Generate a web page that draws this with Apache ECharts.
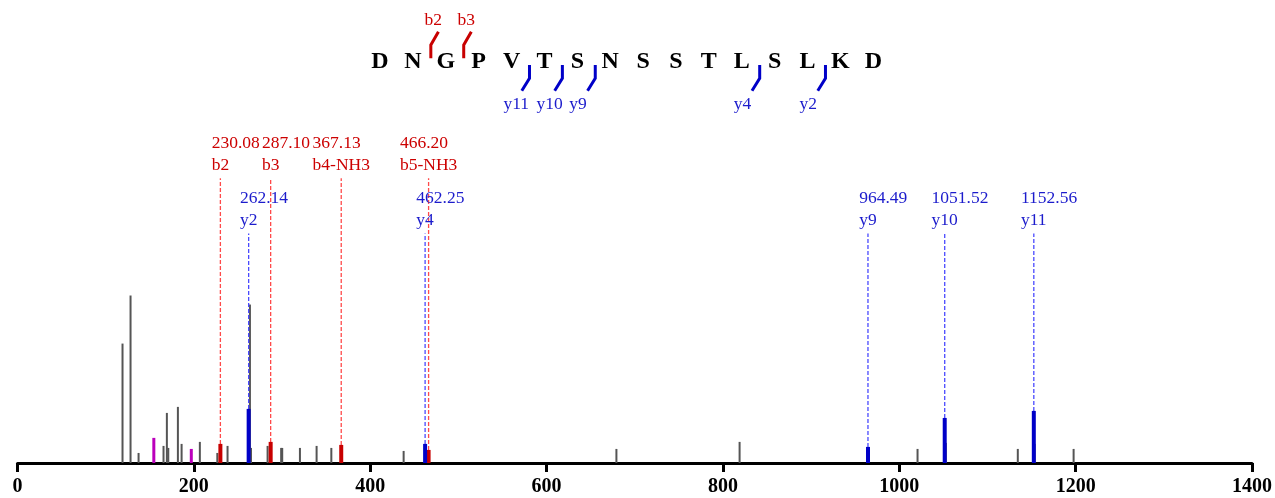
<!DOCTYPE html>
<html>
<head>
<meta charset="utf-8">
<script src="https://cdn.jsdelivr.net/npm/echarts@6/dist/echarts.min.js"></script>
<style>
html,body{margin:0;padding:0;background:#fff;}
#chart{width:1275px;height:498px;}
</style>
</head>
<body>
<div id="chart"></div>
<script>
// ---------- data ----------
const xTicks = [0, 200, 400, 600, 800, 1000, 1200, 1400];
const grayMz  = [119.1, 128.2, 137.3, 165.6, 169.4, 171.0, 181.9, 186.1, 206.8, 226.6, 238.2, 263.6, 264.8, 283.6, 299.0, 300.2, 320.3, 339.2, 355.9, 437.9, 679.2, 818.9, 1020.7, 1052.8, 1134.4, 1153.5, 1197.7];
const grayInt = [71.3, 100, 6.0, 10.2, 29.9, 9.0, 33.5, 11.4, 12.6, 6.0, 10.2, 94.6, 9.0, 10.2, 9.0, 9.0, 9.0, 10.2, 9.0, 7.2, 8.4, 12.6, 8.4, 12.0, 8.4, 11.4, 8.4];
const magentaMz  = [154.6, 197.1];
const magentaInt = [15.0, 8.4];
const bIonMz   = [230.08, 287.10, 367.13, 466.20];
const bIonInt  = [11.4, 12.6, 10.8, 7.8];
const bIonName = ['b2', 'b3', 'b4-NH3', 'b5-NH3'];
const yIonMz   = [262.14, 462.25, 964.49, 1051.52, 1152.56];
const yIonInt  = [32.3, 11.4, 9.6, 26.9, 31.1];
const yIonName = ['y2', 'y4', 'y9', 'y10', 'y11'];
const bLabelLevel = 170;
const yLabelLevel = 137;
const sequence = ['D','N','G','P','V','T','S','N','S','S','T','L','S','L','K','D'];
const bFragments = [2, 3];
const yFragments = [11, 10, 9, 4, 2];

// ---------- helpers ----------
const SERIF = '"Liberation Serif", "Times New Roman", serif';
const LABEL_FONT = '17.5px ' + SERIF;
const measureCtx = document.createElement('canvas').getContext('2d');
function textWidth(t, font) { measureCtx.font = font; return measureCtx.measureText(t).width; }

function peakRender(width, color) {
  return function (params, api) {
    const x = api.value(0), y = api.value(1);
    const p0 = api.coord([x, 0]), p1 = api.coord([x, y]);
    return { type: 'rect', shape: { x: p0[0] - width / 2, y: p1[1], width: width, height: p0[1] - p1[1] }, style: { fill: color } };
  };
}

function annRender(names, barColor, dashColor, textColor, level) {
  return function (params, api) {
    const mz = api.value(0), it = api.value(1);
    const base = api.coord([mz, 0]);
    const top = api.coord([mz, it]);
    const lv = api.coord([mz, level]);
    const name = names[params.dataIndex];
    const w = textWidth(name, LABEL_FONT);
    const left = base[0] - w / 2;
    return {
      type: 'group',
      children: [
        { type: 'line', shape: { x1: base[0], y1: top[1], x2: base[0], y2: lv[1] }, style: { stroke: dashColor, lineWidth: 1.3, lineDash: [4, 2] } },
        { type: 'rect', shape: { x: base[0] - 2, y: top[1], width: 4, height: base[1] - top[1] }, style: { fill: barColor } },
        { type: 'text', x: left, y: lv[1] - 13, style: { text: name, fill: textColor, font: LABEL_FONT, align: 'left', verticalAlign: 'middle' } },
        { type: 'text', x: left, y: lv[1] - 35, style: { text: mz.toFixed(2), fill: textColor, font: LABEL_FONT, align: 'left', verticalAlign: 'middle' } }
      ]
    };
  };
}

const RED = '#c80000', BLUE = '#0000c8';
const RED_TXT = '#cc0000', BLUE_TXT = '#1c1ccc';

const chart = echarts.init(document.getElementById('chart'));
const option = {
  animation: false,
  backgroundColor: '#fff',
  grid: [
    { left: 17.5, right: 23, top: 128, bottom: 35 },
    { left: 380, right: 401.7, top: 20, height: 84 }
  ],
  xAxis: [
    {
      type: 'value', gridIndex: 0, min: xTicks[0], max: xTicks[xTicks.length - 1], interval: xTicks[1] - xTicks[0],
      axisLine: { show: true, lineStyle: { color: '#000', width: 3 } },
      axisTick: { show: true, length: 9, lineStyle: { color: '#000', width: 3 } },
      axisLabel: { show: true, fontFamily: SERIF, fontWeight: 'bold', fontSize: 20, color: '#000', margin: 14, showMinLabel: true, showMaxLabel: true,
        formatter: function (v) { return String(v); } },
      splitLine: { show: false }
    },
    { type: 'value', gridIndex: 1, min: 0, max: sequence.length - 1, show: false }
  ],
  yAxis: [
    { type: 'value', gridIndex: 0, min: 0, max: 200, show: false },
    { type: 'value', gridIndex: 1, min: 0, max: 1, show: false }
  ],
  series: [
    {
      type: 'custom', name: 'peaks', xAxisIndex: 0, yAxisIndex: 0, silent: true,
      encode: { x: 0, y: 1 },
      data: grayMz.map((m, i) => [m, grayInt[i]]),
      renderItem: peakRender(2, '#555555')
    },
    {
      type: 'custom', name: 'other', xAxisIndex: 0, yAxisIndex: 0, silent: true,
      encode: { x: 0, y: 1 },
      data: magentaMz.map((m, i) => [m, magentaInt[i]]),
      renderItem: peakRender(3, '#bb00bb')
    },
    {
      type: 'custom', name: 'b ions', xAxisIndex: 0, yAxisIndex: 0, silent: true,
      encode: { x: 0, y: 1 },
      data: bIonMz.map((m, i) => [m, bIonInt[i]]),
      renderItem: annRender(bIonName, RED, '#ff4a4a', RED_TXT, bLabelLevel)
    },
    {
      type: 'custom', name: 'y ions', xAxisIndex: 0, yAxisIndex: 0, silent: true,
      encode: { x: 0, y: 1 },
      data: yIonMz.map((m, i) => [m, yIonInt[i]]),
      renderItem: annRender(yIonName, BLUE, '#4a4aff', BLUE_TXT, yLabelLevel)
    },
    {
      type: 'custom', name: 'sequence', xAxisIndex: 1, yAxisIndex: 1, silent: true,
      encode: { x: 0, y: 1 },
      data: sequence.map((c, i) => [i, 0.5]),
      renderItem: function (params, api) {
        const p = api.coord([api.value(0), api.value(1)]);
        return { type: 'text', x: p[0], y: p[1], style: { text: sequence[params.dataIndex], fill: '#000', font: 'bold 24px ' + SERIF, align: 'center', verticalAlign: 'middle' } };
      }
    },
    {
      type: 'custom', name: 'b frag', xAxisIndex: 1, yAxisIndex: 1, silent: true,
      encode: { x: 0, y: 1 },
      data: bFragments.map(k => [k - 0.5, 0.5]),
      renderItem: function (params, api) {
        const p = api.coord([api.value(0), api.value(1)]);
        const x = p[0] + 1.5, cy = p[1];
        return { type: 'group', children: [
          { type: 'polyline', shape: { points: [[x, cy - 3.7], [x, cy - 17], [x + 7.6, cy - 30.3]] }, style: { stroke: RED, lineWidth: 3, fill: null } },
          { type: 'text', x: x - 6.3, y: cy - 41.2, style: { text: 'b' + bFragments[params.dataIndex], fill: RED_TXT, font: LABEL_FONT, align: 'left', verticalAlign: 'middle' } }
        ] };
      }
    },
    {
      type: 'custom', name: 'y frag', xAxisIndex: 1, yAxisIndex: 1, silent: true,
      encode: { x: 0, y: 1 },
      data: yFragments.map(k => [sequence.length - k - 0.5, 0.5]),
      renderItem: function (params, api) {
        const p = api.coord([api.value(0), api.value(1)]);
        const x = p[0] + 1.5, cy = p[1];
        return { type: 'group', children: [
          { type: 'polyline', shape: { points: [[x, cy + 3], [x, cy + 16.3], [x - 7.7, cy + 28.7]] }, style: { stroke: BLUE, lineWidth: 3, fill: null } },
          { type: 'text', x: x - 26, y: cy + 42, style: { text: 'y' + yFragments[params.dataIndex], fill: BLUE_TXT, font: LABEL_FONT, align: 'left', verticalAlign: 'middle' } }
        ] };
      }
    }
  ]
};
chart.setOption(option);
</script>
</body>
</html>
